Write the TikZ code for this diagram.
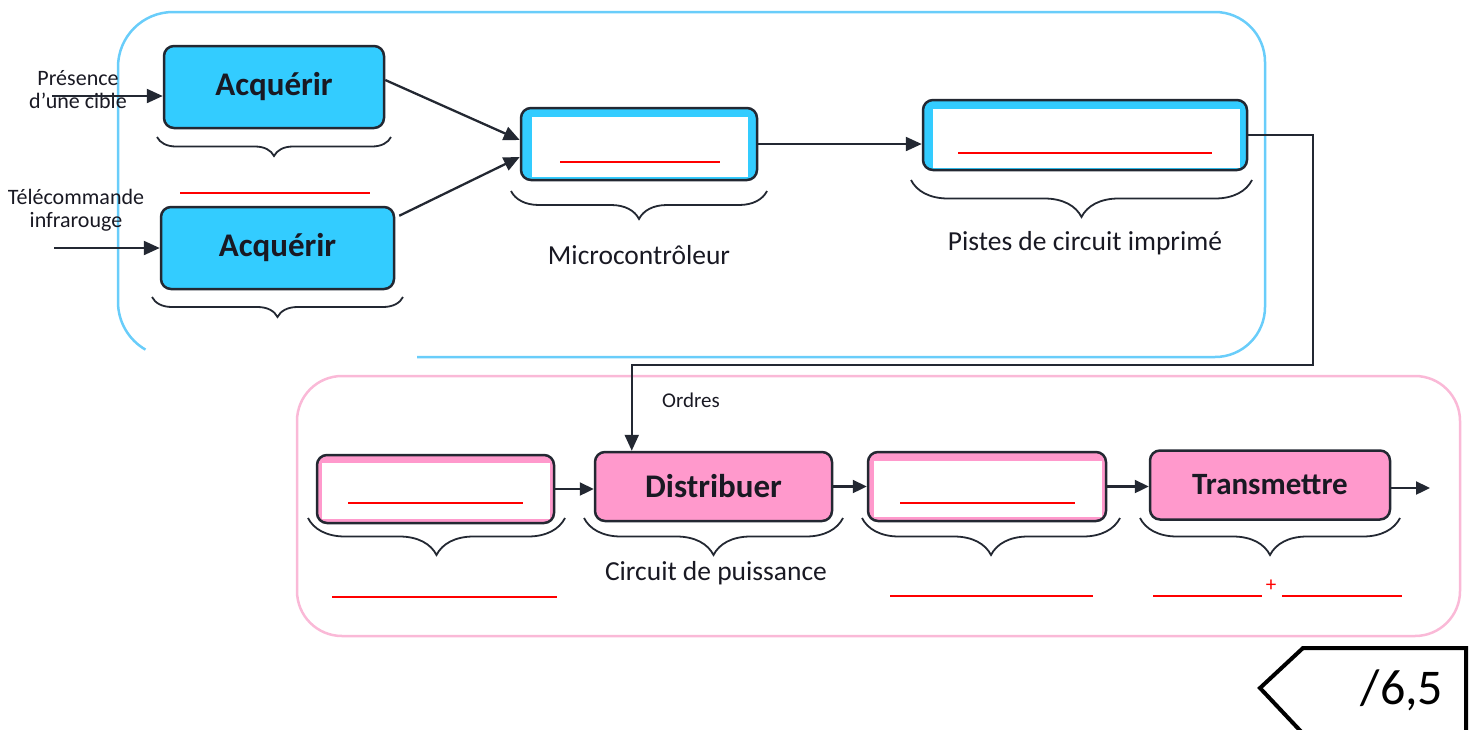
\documentclass[tikz,border=0pt]{standalone}
\usepackage{fontspec}
\setmainfont{Carlito}
\usetikzlibrary{calc,decorations.pathreplacing,arrows.meta}
\definecolor{bleuF}{RGB}{51,204,255}
\definecolor{roseF}{RGB}{255,153,204}
\definecolor{bleuC}{RGB}{105,205,250}
\definecolor{roseC}{RGB}{250,185,215}
\definecolor{bord}{RGB}{35,40,50}
\definecolor{texte}{RGB}{25,25,35}
\tikzset{
  bloc/.style={draw=bord,line width=2.5pt,rounded corners=10pt,inner sep=0pt},
  vide/.style 2 args={path picture={\fill[white,sharp corners] ($(path picture bounding box.north west)+(#1)$) rectangle ($(path picture bounding box.south east)+(#2)$);}},
  gras/.style={font=\fontsize{33}{40}\selectfont\bfseries,text=texte},
  legende/.style={font=\fontsize{27.5}{32}\selectfont,text=texte},
  petit/.style={font=\fontsize{22}{23}\selectfont,text=texte,align=center},
  fleche/.style={-{Triangle[length=16pt,width=14pt]},line width=2.3pt,draw=bord},
  flechette/.style={-{Triangle[length=14pt,width=13pt]},line width=2.3pt,draw=bord},
  accolade/.style={decorate,decoration={brace,mirror,amplitude=#1pt},line width=1.8pt,draw=bord},
  rouge/.style={draw=red,line width=1.6pt},
}
\begin{document}
\begin{tikzpicture}[x=1pt,y=-1pt]
\useasboundingbox (0,0) rectangle (1472,729);
\draw[bleuC,line width=2.5pt] (417,357) -- (1215,357) arc[start angle=90,end angle=0,radius=50]
  -- (1265,62) arc[start angle=0,end angle=-90,radius=50]
  -- (173,12) arc[start angle=-90,end angle=-180,radius=55]
  -- (118,302) arc[start angle=180,end angle=120,radius=55];
\draw[roseC,line width=2.5pt,rounded corners=45pt] (297,376) rectangle (1460,636);

\node[bloc,fill=bleuF,minimum width=220pt,minimum height=82pt,gras] (acq1) at (274,87) {Acquérir};
\node[bloc,fill=bleuF,minimum width=233pt,minimum height=82pt,gras] (acq2) at (277.5,248) {Acquérir};
\node[bloc,fill=bleuF,vide={11,9}{-9,-3},minimum width=236pt,minimum height=72pt] (micro) at (639,144) {};
\node[bloc,fill=bleuF,vide={10,9}{-7,-2},minimum width=324pt,minimum height=70pt] (pistes) at (1085,135) {};
\node[bloc,fill=roseF,vide={5,8}{-4,-4},minimum width=237pt,minimum height=68pt] (alim) at (435.5,489) {};
\node[bloc,fill=roseF,minimum width=237pt,minimum height=69pt,gras] (distrib) at (713.5,486.5) {Distribuer};
\node[bloc,fill=roseF,vide={6,9}{-4,-4},minimum width=238pt,minimum height=69pt] (moteur) at (987,486.5) {};
\node[bloc,fill=roseF,minimum width=240pt,minimum height=69pt,gras,font=\fontsize{31}{38}\selectfont\bfseries] (transm) at (1270,485) {Transmettre};

\node[petit] (cible) at (78,90) {Présence\\d’une cible};
\node[petit] (telec) at (76,210) {Télécommande\\infrarouge};
\coordinate (e1) at (52,96);
\coordinate (e2) at (54,248);
\draw[fleche] (e1) -- (e1 -| acq1.west);
\draw[fleche] (e2) -- (e2 -| acq2.west);
\draw[fleche] ($(acq1.east)+(0,-7)$) -- ($(micro.west)+(0,-4)$);
\draw[fleche] ($(acq2.north east)+(4,10)$) -- ($(micro.west)+(0,13)$);
\draw[fleche] (micro.east) -- (micro.east -| pistes.west);

\coordinate (coude) at (1313,365);
\draw[fleche] (pistes.east) -| (coude) -| ($(distrib.north west)+(38,0)$);
\node[font=\fontsize{21}{24}\selectfont,text=texte] (ordres) at (691,400) {Ordres};

\draw[flechette] (alim.east) -- (alim.east -| distrib.west);
\draw[flechette] (distrib.east) -- (distrib.east -| moteur.west);
\draw[flechette] (moteur.east) -- (moteur.east -| transm.west);
\coordinate (sortie) at (1430,488);
\draw[flechette] (transm.east |- sortie) -- (sortie);

\draw[accolade=19] (157,137) -- (391,137);
\draw[accolade=20] (152,297) -- (403,297);
\draw[accolade=28] (511,191) -- (767,191);
\draw[accolade=37] (911,180) -- (1252,180);
\draw[accolade=37] (308,518) -- (565,518);
\draw[accolade=37] (584,518) -- (843,518);
\draw[accolade=37] (862,518) -- (1120,518);
\draw[accolade=37] (1140,518) -- (1400,518);

\node[legende] (lmicro) at (639,255) {Microcontrôleur};
\node[legende] (lpistes) at (1085,243) {Pistes de circuit imprimé};
\node[legende] (lpuiss) at (716,573) {Circuit de puissance};

\draw[rouge] (180,193) -- (370,193);
\draw[rouge] (560,162) -- (720,162);
\draw[rouge] (958,153) -- (1212,153);
\draw[rouge] (348,503) -- (523,503);
\draw[rouge] (900,503) -- (1075,503);
\draw[rouge] (332,597) -- (557,597);
\draw[rouge] (890,596) -- (1093,596);
\draw[rouge] (1153,596) -- (1262,596);
\draw[rouge] (1282,596) -- (1402,596);
\node[text=red,font=\fontsize{21}{22}\selectfont] (plus) at (1271,586) {+};

\draw[line width=4pt,line join=miter] (1466,740) -- (1466,648) -- (1303,648) -- (1260,688) -- (1309,740);
\node[font=\fontsize{50}{55}\selectfont] (note) at (1402,690) {/6,5};
\end{tikzpicture}
\end{document}
